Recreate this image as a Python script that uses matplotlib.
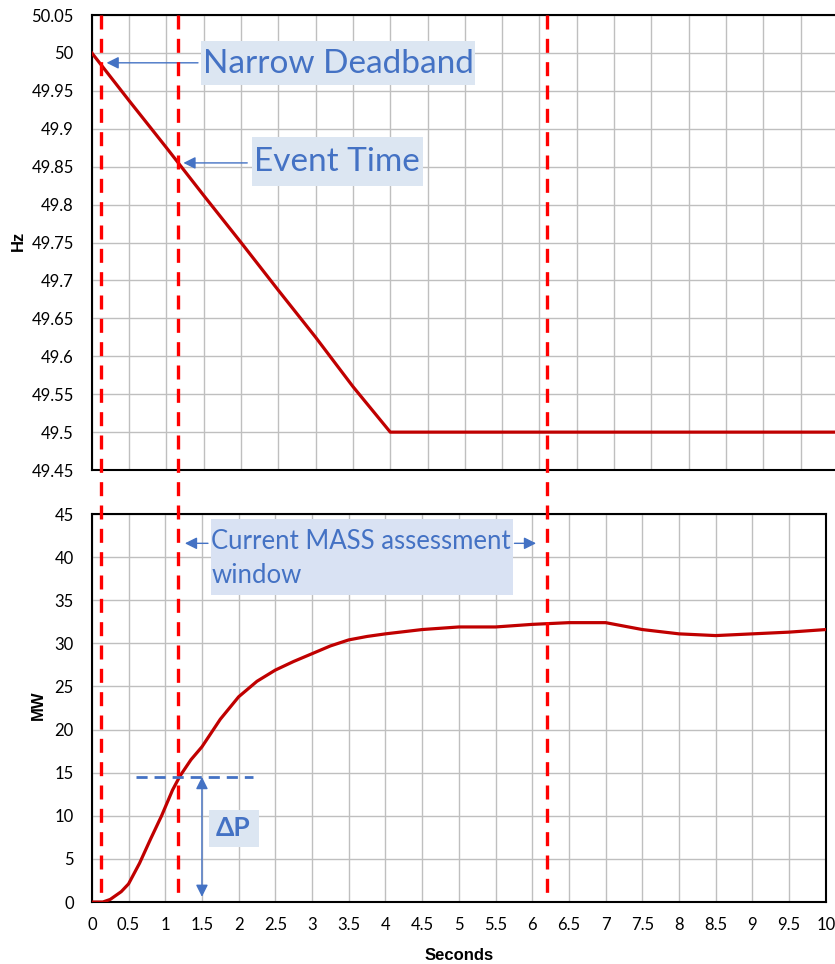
import matplotlib
matplotlib.use("Agg")
import matplotlib.pyplot as plt
from matplotlib.patches import Rectangle
from matplotlib.lines import Line2D
from matplotlib.transforms import blended_transform_factory

# frequency trace (top panel)
time_hz = [0, 0.5, 1.0, 1.5, 2.0, 2.5, 3.0, 3.5, 4.0, 10.0]
freq_hz = [50.0, 49.937, 49.875, 49.812, 49.75, 49.687, 49.625, 49.56, 49.5, 49.5]

# power response (bottom panel)
time_mw = [0, 0.15, 0.25, 0.4, 0.5, 0.65, 0.8, 0.95, 1.1, 1.2, 1.35, 1.5, 1.75,
           2.0, 2.25, 2.5, 2.75, 3.0, 3.25, 3.5, 3.75, 4.0, 4.5, 5.0, 5.5, 6.0,
           6.5, 7.0, 7.5, 8.0, 8.5, 9.0, 9.5, 10.0]
power_mw = [0, 0, 0.3, 1.2, 2.1, 4.5, 7.3, 10.0, 13.0, 14.6, 16.5, 18.0, 21.2,
            23.8, 25.6, 26.9, 27.9, 28.8, 29.7, 30.4, 30.8, 31.1, 31.6, 31.9, 31.9, 32.2,
            32.4, 32.4, 31.6, 31.1, 30.9, 31.1, 31.3, 31.6]

hz_ticks = [49.45, 49.5, 49.55, 49.6, 49.65, 49.7, 49.75, 49.8, 49.85, 49.9, 49.95, 50.0, 50.05]
hz_labels = ["49.45", "49.5", "49.55", "49.6", "49.65", "49.7", "49.75", "49.8",
             "49.85", "49.9", "49.95", "50", "50.05"]
mw_ticks = [0, 5, 10, 15, 20, 25, 30, 35, 40, 45]
sec_ticks = [i * 0.5 for i in range(21)]
sec_labels = ["0", "0.5", "1", "1.5", "2", "2.5", "3", "3.5", "4", "4.5", "5", "5.5",
              "6", "6.5", "7", "7.5", "8", "8.5", "9", "9.5", "10"]

# marker times (red dashed lines)
deadband_t = 0.13
event_t = 1.17
window_end_t = 6.2
delta_p = 14.5

RED = "#C00000"
BLUE = "#4472C4"
BOX = "#DCE6F2"
GRID = "#BFBFBF"

plt.rcParams["font.family"] = ["Lato", "DejaVu Sans"]

fig = plt.figure(figsize=(8.35, 9.64), dpi=100)
ax1 = fig.add_axes([0.110, 0.5124, 0.8935, 0.472])
ax2 = fig.add_axes([0.110, 0.0643, 0.879, 0.4025])

# top panel
ax1.plot(time_hz, freq_hz, color=RED, lw=2.3, zorder=3)
ax1.set_xlim(0, 10)
ax1.set_ylim(49.45, 50.05)
ax1.set_xticks(sec_ticks)
ax1.set_xticklabels([])
ax1.set_yticks(hz_ticks)
ax1.set_yticklabels(hz_labels, fontsize=12)

# bottom panel
ax2.plot(time_mw, power_mw, color=RED, lw=2.3, zorder=3)
ax2.set_xlim(0, 10)
ax2.set_ylim(0, 45)
ax2.set_xticks(sec_ticks)
ax2.set_xticklabels(sec_labels, fontsize=12)
ax2.set_yticks(mw_ticks)
ax2.set_yticklabels([str(v) for v in mw_ticks], fontsize=12)

for ax in (ax1, ax2):
    ax.grid(True, color=GRID, lw=1.0)
    ax.set_axisbelow(True)
    ax.tick_params(axis="y", length=0, pad=13)
    ax.tick_params(axis="x", length=0, pad=11)
    for s in ax.spines.values():
        s.set_linewidth(1.5)
        s.set_color("black")
ax1.spines["right"].set_visible(False)

fig.text(0.022, 0.75, "Hz", rotation=90, ha="center", va="center",
         fontsize=12, fontweight="bold", family=["Liberation Sans", "DejaVu Sans"])
fig.text(0.046, 0.268, "MW", rotation=90, ha="center", va="center",
         fontsize=12, fontweight="bold", family=["Liberation Sans", "DejaVu Sans"])
fig.text(0.55, 0.009, "Seconds", ha="center", va="center",
         fontsize=12, fontweight="bold", family=["Liberation Sans", "DejaVu Sans"])

# red dashed vertical lines across both panels
trans = blended_transform_factory(ax2.transData, fig.transFigure)
for t in (deadband_t, event_t, window_end_t):
    fig.add_artist(Line2D([t, t], [0.9844, 0.069], transform=trans, color="#FF0000",
                          lw=2.4, linestyle=(0, (4.2, 2.8)), zorder=5))

arrow_kw = dict(arrowstyle="-|>", color=BLUE, lw=1.0, mutation_scale=18)

# annotations, top panel
ax1.add_patch(Rectangle((1.46, 49.958), 3.67, 0.058, facecolor=BOX, edgecolor="none",
                        zorder=4, clip_on=False))
ax1.text(3.30, 49.986, "Narrow Deadband", color=BLUE, fontsize=24, ha="center",
         va="center", zorder=6)
ax1.annotate("", xy=(0.16, 49.987), xytext=(1.46, 49.987), arrowprops=arrow_kw,
             zorder=6)

ax1.add_patch(Rectangle((2.14, 49.825), 2.30, 0.064, facecolor=BOX, edgecolor="none",
                        zorder=4))
ax1.text(3.28, 49.856, "Event Time", color=BLUE, fontsize=24, ha="center",
         va="center", zorder=6)
ax1.annotate("", xy=(1.19, 49.855), xytext=(2.12, 49.855), arrowprops=arrow_kw,
             zorder=6)

# annotations, bottom panel
ax2.add_patch(Rectangle((1.62, 35.6), 4.12, 8.8, facecolor="#D9E2F3", edgecolor="none",
                        zorder=4))
ax2.text(1.63, 39.8, "Current MASS assessment\nwindow", color=BLUE, fontsize=18.5,
         ha="left", va="center", linespacing=1.45, zorder=6)
ax2.annotate("", xy=(1.23, 41.6), xytext=(1.62, 41.6), arrowprops=arrow_kw, zorder=6)
ax2.annotate("", xy=(6.09, 41.6), xytext=(5.72, 41.6), arrowprops=arrow_kw, zorder=6)

ax2.plot([0.6, 2.2], [delta_p, delta_p], color=BLUE, lw=2.0, linestyle=(0, (4, 2.5)),
         zorder=4)
ax2.annotate("", xy=(1.5, 0.6), xytext=(1.5, delta_p),
             arrowprops=dict(arrowstyle="<|-|>", color=BLUE, lw=1.0, mutation_scale=18,
                             shrinkA=0, shrinkB=0), zorder=6)
ax2.add_patch(Rectangle((1.59, 6.4), 0.69, 4.3, facecolor=BOX, edgecolor="none",
                        zorder=4))
ax2.text(1.92, 8.6, "\u0394P", color=BLUE, fontsize=19, fontweight="bold",
         ha="center", va="center", zorder=6)

fig.savefig("out.png", dpi=100)
